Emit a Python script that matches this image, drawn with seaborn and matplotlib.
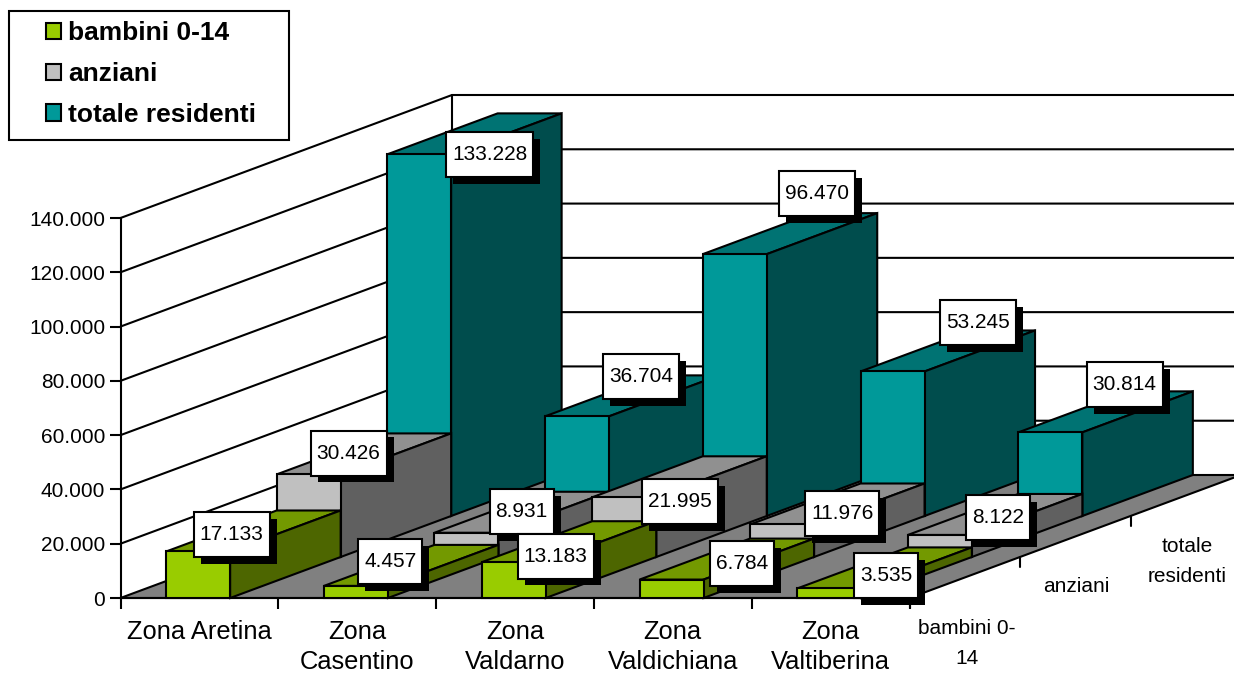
import matplotlib
matplotlib.use("Agg")
import matplotlib.pyplot as plt
import pandas as pd
import seaborn as sns
from matplotlib.patches import Patch, Polygon, Rectangle
from matplotlib.path import Path
from matplotlib.patheffects import withSimplePatchShadow
from matplotlib.transforms import Affine2D

# Resident population by health zone
zones = ["Zona Aretina", "Zona\nCasentino", "Zona\nValdarno", "Zona\nValdichiana", "Zona\nValtiberina"]
bambini = [17133, 4457, 13183, 6784, 3535]
anziani = [30426, 8931, 21995, 11976, 8122]
totale = [133228, 36704, 96470, 53245, 30814]
series_names = ["bambini 0-14", "anziani", "totale residenti"]
depth_names = ["bambini 0-\n14", "anziani", "totale\nresidenti"]
y_ticks = [0, 20000, 40000, 60000, 80000, 100000, 120000, 140000]

# Shades per series: front, top and side faces of each block
front_colors = ["#99CC00", "#C0C0C0", "#009999"]
top_colors = ["#739900", "#909090", "#007373"]
side_colors = ["#4D6600", "#606060", "#004D4D"]

# Value label placement relative to each block's front top centre, in pixels
label_offsets = [
    [(33.6, 16.5), (34.3, 24.4), (42, 6.2), (70.2, 15.6), (56.9, 12.9)],
    [(40, 21.4), (55.3, 20.8), (55.5, -4.7), (60.2, 10.5), (58.4, 17)],
    [(70.6, -0.6), (64.3, 39.4), (82, 60.2), (85.2, 48.5), (74.4, 47.4)],
]
depth_label_offsets = [(2, -66), (1, -50), (1, -66)]

W, H = 1234, 676
PX_X = 157.8         # pixels per category
PX_Y = 380 / 140000  # pixels per unit of value
DEPTH_X = 110.5 / PX_X  # oblique shift of one series row, x data units
DEPTH_Y = 41 / PX_Y     # oblique shift of one series row, y data units
LINE = 1.5
BLACK = "#000000"

sns.set_theme(style="white")
plt.rcParams["font.family"] = ["Liberation Sans", "DejaVu Sans"]

fig = plt.figure(figsize=(W / 100, H / 100), dpi=100)
ax = fig.add_axes([120.5 / W, (H - 598) / H, 789 / W, 380 / H])
ax.patch.set_alpha(0)


def shifted(x, y, row):
    """Project a point of the front plane back by a number of series rows."""
    return x + row * DEPTH_X, y + row * DEPTH_Y


frame = pd.DataFrame({"zona": zones, series_names[0]: bambini,
                      series_names[1]: anziani, series_names[2]: totale})

# Blocks, from the rear row to the front one so that nearer faces cover farther ones
for row in [2, 1, 0]:
    name = series_names[row]
    sns.barplot(data=frame, x="zona", y=name, order=zones, color=front_colors[row],
                saturation=1, width=64 / PX_X, errorbar=None, edgecolor=BLACK,
                linewidth=LINE, clip_on=False, ax=ax)
    bars = ax.containers[-1]
    tf = Affine2D().translate(*shifted(-0.008, 0, row)) + ax.transData
    for col, bar in enumerate(bars):
        z = 10 + (2 - row) * 10 + col
        bar.set_transform(tf)
        bar.set_zorder(z + 0.2)
        bar.set_joinstyle("miter")
        x0, x1, v = bar.get_x(), bar.get_x() + bar.get_width(), bar.get_height()
        top = [(x0, v), (x1, v), shifted(x1, v, 1), shifted(x0, v, 1)]
        side = [(x1, 0), shifted(x1, 0, 1), shifted(x1, v, 1), (x1, v)]
        for pts, color in ((top, top_colors[row]), (side, side_colors[row])):
            ax.add_patch(Polygon(pts, closed=True, facecolor=color, edgecolor=BLACK,
                                 linewidth=LINE, transform=tf, clip_on=False, zorder=z))

x_left, x_right = -0.5, 4.5
ax.set_xlim(x_left, x_right)
ax.set_ylim(0, 140000)
ax.set_xlabel("")
ax.set_ylabel("")

# Floor and walls
corners = [(x_left, 0), (x_right, 0), shifted(x_right, 0, 3), shifted(x_left, 0, 3)]
ax.add_patch(Polygon(corners, closed=True, facecolor="#808080", edgecolor=BLACK,
                     linewidth=LINE, clip_on=False, zorder=3))
for v in y_ticks[1:]:
    bx, by = shifted(x_left, v, 3)
    ex, _ = shifted(x_right, v, 3)
    ax.plot([x_left, bx, ex], [v, by, by], color=BLACK, lw=LINE, clip_on=False, zorder=2,
            solid_joinstyle="miter")
bx, by0 = shifted(x_left, 0, 3)
_, by1 = shifted(x_left, 140000, 3)
ax.plot([bx, bx], [by0, by1], color=BLACK, lw=LINE, clip_on=False, zorder=2)

# Axes and ticks
sns.despine(ax=ax, top=True, right=True)
for side_name in ("left", "bottom"):
    ax.spines[side_name].set_linewidth(LINE)
    ax.spines[side_name].set_color(BLACK)
    ax.spines[side_name].set_zorder(6)
ax.set_yticks(y_ticks)
ax.set_yticklabels([f"{v:,.0f}".replace(",", ".") for v in y_ticks], fontsize=15, color=BLACK)
ax.tick_params(axis="y", length=8, width=LINE, color=BLACK, pad=3, left=True)
ax.set_xticks([x_left + i for i in range(6)])
ax.set_xticklabels([])
ax.set_xticks(range(5), labels=zones, minor=True, fontsize=18.4, color=BLACK, linespacing=1.36)
ax.tick_params(axis="x", which="major", length=8, width=LINE, color=BLACK, bottom=True)
ax.tick_params(axis="x", which="minor", length=0, pad=15.5, bottom=False)

# Ticks and names along the depth axis
for row, (name, off) in enumerate(zip(depth_names, depth_label_offsets)):
    tx, ty = shifted(x_right, 0, row)
    ax.plot([tx, tx], [ty, ty - 10 / PX_Y], color=BLACK, lw=LINE, clip_on=False, zorder=6)
    mx, my = shifted(x_right, 0, row + 0.5)
    ax.annotate(name, xy=(mx, my), xytext=off, textcoords="offset pixels", ha="center",
                va="center", fontsize=15, color=BLACK, linespacing=1.7, annotation_clip=False)


def label_box(x0, y0, width, height, mutation_size):
    """Square box of fixed height with a fixed side margin around the text."""
    pad_x, box_h = 6.0, 45.0
    cy = y0 + height / 2
    left, right = x0 - pad_x, x0 + width + pad_x
    low, high = cy - box_h / 2, cy + box_h / 2
    return Path([(left, low), (right, low), (right, high), (left, high), (left, low)], closed=True)


# Value labels with a hard drop shadow
z_label = 100
for row, values in ((2, totale), (1, anziani), (0, bambini)):
    for col in range(len(zones)):
        value = values[col]
        ax_x, ax_y = shifted(col - 0.008, value, row)
        dx, dy = label_offsets[row][col]
        ann = ax.annotate(f"{value:,.0f}".replace(",", "."), xy=(ax_x, ax_y), xytext=(dx, dy),
                          textcoords="offset pixels", ha="center", va="center", fontsize=15,
                          color=BLACK, annotation_clip=False, zorder=z_label,
                          bbox=dict(boxstyle=label_box, facecolor="white", edgecolor=BLACK,
                                    linewidth=LINE))
        ann.get_bbox_patch().set_path_effects(
            [withSimplePatchShadow(offset=(5.0, -5.0), shadow_rgbFace=BLACK, alpha=1.0)])
        z_label += 1

# Legend
fig.add_artist(Rectangle((8.5 / W, 1 - 140 / H), 280 / W, 129 / H, facecolor="white",
                         edgecolor=BLACK, linewidth=LINE, transform=fig.transFigure, zorder=5))
handles = [Patch(facecolor=c, edgecolor=BLACK, linewidth=LINE) for c in front_colors]
legend_font = 19
em = legend_font * 100 / 72
legend = fig.legend(handles=handles, labels=series_names, loc="upper left",
                    bbox_to_anchor=(46 / W, 1 - 21.5 / H), borderaxespad=0, borderpad=0,
                    frameon=False, handlelength=15 / em, handleheight=15 / em,
                    handletextpad=7 / em, labelspacing=0.63, labelcolor=BLACK,
                    prop={"size": legend_font, "weight": "bold"})
legend.set_zorder(6)

fig.savefig("out.png", dpi=100)
